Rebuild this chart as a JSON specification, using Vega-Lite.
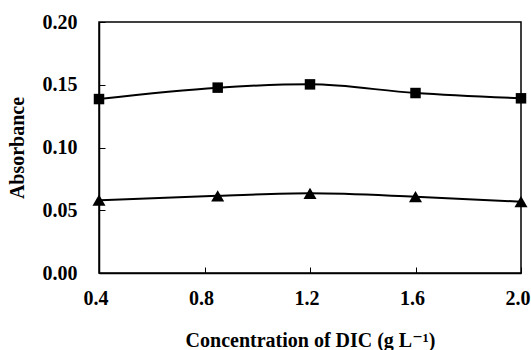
{
  "$schema": "https://vega.github.io/schema/vega-lite/v6.json",
  "autosize": "none",
  "width": 422,
  "height": 251,
  "padding": {"left": 99, "top": 22, "right": 10, "bottom": 77},
  "background": "white",
  "config": {
    "view": {"stroke": "black", "strokeWidth": 1.5},
    "font": "Liberation Serif, Times New Roman, DejaVu Serif, serif",
    "axis": {
      "grid": false,
      "domainColor": "black",
      "domainWidth": 1.5,
      "tickColor": "black",
      "tickWidth": 1,
      "tickSize": -6,
      "labelFont": "Liberation Serif, Times New Roman, DejaVu Serif, serif",
      "labelFontWeight": "bold",
      "labelFontSize": 20,
      "labelColor": "black",
      "titleFont": "Liberation Serif, Times New Roman, DejaVu Serif, serif",
      "titleFontWeight": "bold",
      "titleFontSize": 20,
      "titleColor": "black"
    }
  },
  "data": {
    "values": [
      {"conc": 0.4, "abs": 0.1386, "series": "square"},
      {"conc": 0.85, "abs": 0.1477, "series": "square"},
      {"conc": 1.2, "abs": 0.1503, "series": "square"},
      {"conc": 1.6, "abs": 0.1434, "series": "square"},
      {"conc": 2.0, "abs": 0.1392, "series": "square"},
      {"conc": 0.4, "abs": 0.058, "series": "triangle"},
      {"conc": 0.85, "abs": 0.0615, "series": "triangle"},
      {"conc": 1.2, "abs": 0.0635, "series": "triangle"},
      {"conc": 1.6, "abs": 0.0608, "series": "triangle"},
      {"conc": 2.0, "abs": 0.0568, "series": "triangle"}
    ]
  },
  "encoding": {
    "x": {
      "field": "conc",
      "type": "quantitative",
      "scale": {"domain": [0.4, 2.0], "nice": false, "zero": false},
      "axis": {
        "values": [0.4, 0.8, 1.2, 1.6, 2.0],
        "format": ".1f",
        "labelPadding": 21,
        "labelOffset": -3.5,
        "labelFlush": false,
        "title": "Concentration of DIC (g L⁻¹)",
        "titleBaseline": "alphabetic",
        "titleY": 73
      }
    },
    "y": {
      "field": "abs",
      "type": "quantitative",
      "scale": {"domain": [0, 0.2], "nice": false},
      "axis": {
        "values": [0, 0.05, 0.1, 0.15, 0.2],
        "format": ".2f",
        "labelPadding": 28,
        "title": "Absorbance",
        "titleX": -82,
        "titleBaseline": "middle"
      }
    }
  },
  "layer": [
    {
      "mark": {"type": "line", "interpolate": "monotone", "color": "black", "strokeWidth": 2},
      "encoding": {"detail": {"field": "series"}}
    },
    {
      "mark": {"type": "point", "filled": true, "color": "black", "opacity": 1},
      "encoding": {
        "shape": {
          "field": "series",
          "scale": {"domain": ["square", "triangle"], "range": ["square", "triangle-up"]},
          "legend": null
        },
        "size": {
          "field": "series",
          "scale": {"domain": ["square", "triangle"], "range": [110, 170]},
          "legend": null
        }
      }
    }
  ]
}
